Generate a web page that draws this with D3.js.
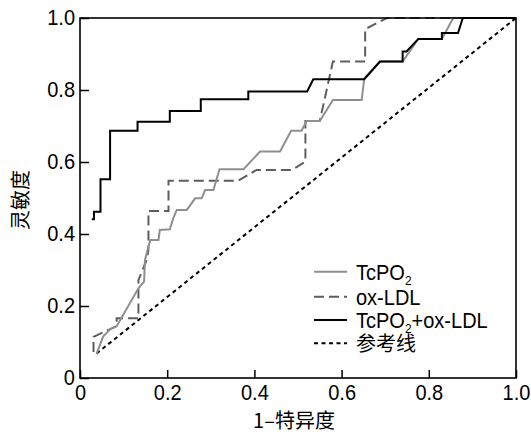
<!DOCTYPE html>
<html><head><meta charset="utf-8">
<script src="https://cdn.jsdelivr.net/npm/d3@7"></script>
<style>
body{margin:0;background:#fff}
text{font-family:"Liberation Sans",Arial,Helvetica,sans-serif;fill:#000}
.cjk{font-family:"Noto Sans CJK SC","Liberation Sans",sans-serif}
</style>
</head><body>
<svg id="c" width="531" height="437"></svg>
<script>
const xTicks=[0,0.2,0.4,0.6,0.8,1.0];
const xTickLabels=["0","0.2","0.4","0.6","0.8","1.0"];
const yTicks=[0,0.2,0.4,0.6,0.8,1.0];
const yTickLabels=["0","0.2","0.4","0.6","0.8","1.0"];
const xTitle="1\u2013特异度";
const yTitle="灵敏度";

const tcpo2X=[0.038,0.053,0.069,0.084,0.134,0.147,0.149,0.161,0.180,0.183,0.206,0.214,0.222,0.245,0.264,0.279,0.287,0.306,0.320,0.375,0.413,0.459,0.484,0.508,0.520,0.550,0.580,0.646,0.652,0.688,0.740,0.776,0.830,0.856,1.0];
const tcpo2Y=[0.067,0.115,0.135,0.144,0.249,0.268,0.328,0.383,0.383,0.411,0.413,0.444,0.467,0.467,0.499,0.499,0.522,0.522,0.580,0.580,0.629,0.629,0.687,0.687,0.714,0.714,0.772,0.772,0.832,0.879,0.879,0.942,0.942,1.0,1.0];

const oxldlX=[0.031,0.031,0.069,0.084,0.084,0.134,0.134,0.153,0.157,0.157,0.203,0.203,0.363,0.405,0.486,0.517,0.517,0.550,0.580,0.654,0.654,0.704,1.0];
const oxldlY=[0.072,0.114,0.136,0.144,0.166,0.166,0.272,0.328,0.356,0.464,0.464,0.548,0.548,0.578,0.578,0.601,0.714,0.714,0.879,0.879,0.969,1.0,1.0];

const combX=[0.027,0.032,0.032,0.047,0.047,0.069,0.069,0.132,0.132,0.206,0.206,0.277,0.277,0.386,0.386,0.521,0.535,0.652,0.688,0.740,0.740,0.749,0.776,0.830,0.830,0.867,0.878,1.0];
const combY=[0.441,0.441,0.462,0.462,0.552,0.552,0.687,0.687,0.712,0.712,0.742,0.742,0.774,0.774,0.796,0.796,0.830,0.830,0.879,0.879,0.907,0.907,0.942,0.942,0.958,0.958,1.0,1.0];

const refX=[0.038,1.0];
const refY=[0.068,1.0];

const seriesNames=["TcPO2","ox-LDL","TcPO2+ox-LDL","参考线"];

const svg=d3.select("#c");
const L=80,R=516,T=18,B=378;
const x=d3.scaleLinear().domain([0,1]).range([L,R]);
const y=d3.scaleLinear().domain([0,1]).range([B,T]);
const SY=1.1;

const series=[
  {xs:tcpo2X,ys:tcpo2Y,color:"#8f8f8f",dash:null,w:2},
  {xs:oxldlX,ys:oxldlY,color:"#5e5e5e",dash:"10,5",w:2},
  {xs:combX,ys:combY,color:"#000",dash:null,w:2},
  {xs:refX,ys:refY,color:"#000",dash:"4,3.5",w:2}
];
const line=d3.line().x(d=>x(d[0])).y(d=>y(d[1]));

[3,1,0,2].forEach(i=>{
  const s=series[i];
  svg.append("path")
    .attr("d",line(s.xs.map((v,k)=>[v,s.ys[k]])))
    .attr("fill","none").attr("stroke",s.color).attr("stroke-width",s.w)
    .attr("stroke-dasharray",s.dash).attr("stroke-linejoin","miter");
});

const xa=svg.append("g").attr("transform",`translate(0,${B})`)
  .call(d3.axisBottom(x).tickValues(xTicks).tickFormat((d,i)=>xTickLabels[i]).tickSizeInner(-8).tickSizeOuter(0).tickPadding(4));
const ya=svg.append("g").attr("transform",`translate(${L},0)`)
  .call(d3.axisLeft(y).tickValues(yTicks).tickFormat((d,i)=>yTickLabels[i]).tickSizeInner(-9).tickSizeOuter(0).tickPadding(5));
[xa,ya].forEach(g=>{
  g.select(".domain").remove();
  g.selectAll(".tick line").attr("stroke","#000").attr("stroke-width",1.5);
  g.selectAll("text").attr("font-size",20).attr("font-family","Liberation Sans, Arial, sans-serif").attr("fill","#000")
    .attr("transform",`scale(1,${SY})`);
});
xa.selectAll("text").attr("dy","0.8em");
ya.selectAll("text").attr("dy","0.3em");

svg.append("rect").attr("x",L).attr("y",T).attr("width",R-L).attr("height",B-T)
  .attr("fill","none").attr("stroke","#000").attr("stroke-width",1.6);

svg.append("text").attr("class","cjk").attr("x",294).attr("y",428).attr("text-anchor","middle")
  .attr("font-size",20).text(xTitle);
svg.append("text").attr("class","cjk").attr("transform","translate(28,200) rotate(-90)").attr("text-anchor","middle")
  .attr("font-size",20).text(yTitle);

const lg=svg.append("g");
const rows=[271.7,296.7,320,343.3];
series.forEach((s,i)=>{
  lg.append("line").attr("x1",314).attr("x2",347).attr("y1",rows[i]).attr("y2",rows[i])
    .attr("stroke",s.color).attr("stroke-width",s.w).attr("stroke-dasharray",s.dash);
  const name=seriesNames[i];
  const isCjk=/[\u4e00-\u9fff]/.test(name);
  const t=lg.append("text").attr("x",0).attr("y",0).attr("dy","0.36em").attr("font-size",20)
    .attr("transform",`translate(356,${rows[i]}) scale(1,${isCjk?1:SY})`);
  if(name.startsWith("TcPO2")){
    t.append("tspan").text("TcPO");
    t.append("tspan").attr("font-size",12).attr("dy",5).text("2");
    const rest=name.slice(5);
    if(rest) t.append("tspan").attr("dy",-5).text(rest);
  } else {
    if(isCjk) t.attr("class","cjk");
    t.text(name);
  }
});
</script>
</body></html>
